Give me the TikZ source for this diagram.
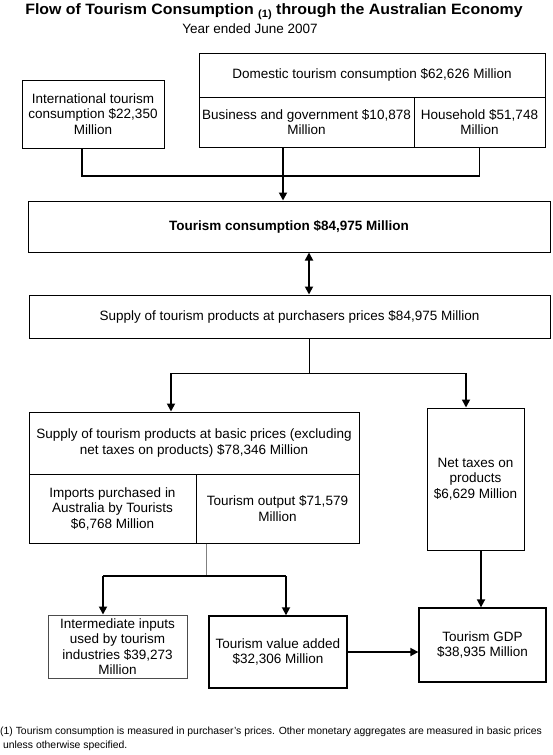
\documentclass[tikz,border=0pt]{standalone}
\usepackage{fontspec}
\setmainfont{Liberation Sans}
\usetikzlibrary{arrows.meta}
\begin{document}
\begin{tikzpicture}[x=1pt,y=-1pt,
  box/.style={draw=black, line width=1pt, align=center, inner sep=0pt,
    font=\fontsize{13.5}{15.5}\selectfont},
  thinlink/.style={line width=1pt},
  link/.style={line width=1.3pt},
  arr/.style={line width=1.7pt, -{Triangle[length=8pt,width=8pt]}},
  dblarr/.style={line width=1.7pt, {Triangle[length=8pt,width=8pt]}-{Triangle[length=8pt,width=8pt]}},
]
\useasboundingbox (0,0) rectangle (552,755);
\fill[white] (0,0) rectangle (552,755);

% titles
\node[font=\fontsize{15}{17}\bfseries] (title) at (274,12)
  {\scalebox{1.06}[1]{Flow of Tourism Consumption \raisebox{-3pt}{\fontsize{10.5}{10.5}\selectfont(1)} through the Australian Economy}};
\node[font=\fontsize{13.5}{15}\selectfont] (sub) at (250,29) {Year ended June 2007};

% top row
\node[box, minimum width=142pt, minimum height=68pt] (int) at (93,114)
  {International tourism\\consumption \$22,350\\Million};
\node[box, minimum width=346pt, minimum height=44pt] (dom) at (372,75)
  {Domestic tourism consumption \$62,626 Million};
\node[box, minimum width=215pt, minimum height=50pt] (bus) at (306.5,122)
  {Business and government \$10,878\\Million};
\node[box, minimum width=131pt, minimum height=50pt] (hh) at (479.5,122)
  {Household \$51,748\\Million};

% main boxes
\node[box, minimum width=522pt, minimum height=51pt, font=\fontsize{13.5}{15.5}\bfseries] (tc) at (289,226.5)
  {Tourism consumption \$84,975 Million};
\node[box, minimum width=521pt, minimum height=43pt] (sup) at (289.5,316.5)
  {Supply of tourism products at purchasers prices \$84,975 Million};

% basic prices
\node[box, minimum width=330pt, minimum height=62pt] (basic) at (194,443)
  {Supply of tourism products at basic prices (excluding\\net taxes on products) \$78,346 Million};
\node[box, minimum width=167pt, minimum height=69pt] (imp) at (112.5,508.5)
  {Imports purchased in\\Australia by Tourists\\\$6,768 Million};
\node[box, minimum width=163pt, minimum height=69pt] (out) at (277.5,508.5)
  {Tourism output \$71,579\\Million};
\node[box, minimum width=97pt, minimum height=142pt] (net) at (475.5,479)
  {Net taxes on\\products\\\$6,629 Million};

% bottom row
\node[box, draw=black!70, minimum width=139pt, minimum height=63pt] (inter) at (117.5,646.5)
  {Intermediate inputs\\used by tourism\\industries \$39,273\\Million};
\node[box, line width=1.4pt, minimum width=138pt, minimum height=72pt] (va) at (278,652)
  {Tourism value added\\\$32,306 Million};
\node[box, line width=1.3pt, minimum width=127pt, minimum height=74pt] (gdp) at (482.5,645)
  {Tourism GDP\\\$38,935 Million};

% footnote
\node[anchor=north west, align=left, inner sep=0pt, font=\fontsize{10.4}{14}\selectfont] (foot) at (0,727)
  {(1) Tourism consumption is measured in purchaser's prices. Other monetary aggregates are measured in basic prices\\
  \ unless otherwise specified.};

% junction coordinates
\coordinate (j0) at (82,176);
\coordinate (j1) at (309,373);
\coordinate (j1l) at (171,373);
\coordinate (j1r) at (466,373);
\coordinate (j2) at (206,576);
\coordinate (j2l) at (103,576);
\coordinate (j2r) at (286,576);

% connectors
\draw[link] (j0 |- int.south) -- (j0) -| (hh.south);
\draw[arr] ([xshift=-23.5pt]bus.south) -- ([xshift=-23.5pt]bus.south |- tc.north);
\draw[dblarr] ([xshift=20pt]tc.south) -- ([xshift=20pt]tc.south |- sup.north);
\draw[thinlink] (j1 |- sup.south) -- (j1);
\draw[thinlink] (j1l) -- (j1r);
\draw[arr] (j1l) -- (j1l |- basic.north);
\draw[arr] (j1r) -- (j1r |- net.north);
\draw[thinlink, draw=black!50] (j2 |- out.south) -- (j2);
\draw[link] (j2l) -- (j2r);
\draw[arr] (j2l) -- (j2l |- inter.north);
\draw[arr] (j2r) -- (j2r |- va.north);
\draw[arr] (va.east) -- (va.east -| gdp.west);
\draw[arr] ([xshift=5.5pt]net.south) -- ([xshift=5.5pt]net.south |- gdp.north);
\end{tikzpicture}
\end{document}
